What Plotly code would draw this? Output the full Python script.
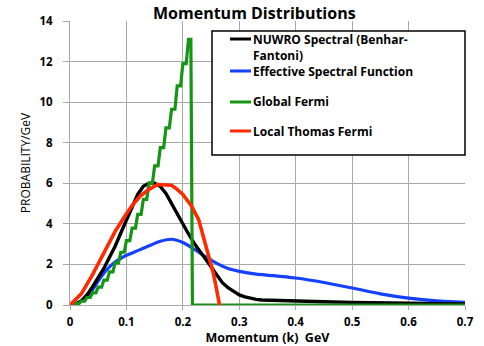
import plotly.graph_objects as go

# ---------------- data ----------------
k_nuwro = [0.00, 0.01, 0.02, 0.03, 0.04, 0.05, 0.06, 0.07, 0.08, 0.09,
           0.10, 0.11, 0.12, 0.13, 0.14, 0.15, 0.16, 0.17, 0.18, 0.19,
           0.20, 0.21, 0.22, 0.23, 0.24, 0.25, 0.26, 0.27, 0.28, 0.29,
           0.30, 0.31, 0.32, 0.33, 0.34, 0.35, 0.36, 0.38, 0.40, 0.45,
           0.50, 0.55, 0.60, 0.65, 0.70]
p_nuwro = [0.00, 0.05, 0.20, 0.50, 0.90, 1.35, 1.80, 2.35, 2.90, 3.55,
           4.20, 4.85, 5.45, 5.85, 6.00, 6.00, 5.85, 5.50, 5.00, 4.50,
           3.95, 3.50, 3.05, 2.65, 2.25, 1.85, 1.45, 1.10, 0.85, 0.65,
           0.50, 0.40, 0.33, 0.28, 0.25, 0.24, 0.22, 0.20, 0.19, 0.16,
           0.13, 0.10, 0.08, 0.06, 0.05]

k_esf = [0.00, 0.01, 0.02, 0.03, 0.04, 0.05, 0.06, 0.07, 0.08, 0.09,
         0.10, 0.12, 0.14, 0.16, 0.18, 0.20, 0.22, 0.24, 0.26, 0.28,
         0.30, 0.33, 0.36, 0.40, 0.45, 0.50, 0.55, 0.60, 0.65, 0.70]
p_esf = [0.00, 0.05, 0.20, 0.42, 0.75, 1.18, 1.56, 1.88, 2.12, 2.30,
         2.45, 2.68, 2.92, 3.14, 3.24, 3.08, 2.75, 2.38, 2.05, 1.80,
         1.66, 1.52, 1.45, 1.33, 1.11, 0.84, 0.55, 0.34, 0.20, 0.13]

# Global Fermi: histogram bins (left edges) and bin heights
k_gf = [0.00, 0.01, 0.02, 0.03, 0.04, 0.05, 0.06, 0.07, 0.08, 0.09,
        0.10, 0.11, 0.12, 0.13, 0.14, 0.15, 0.16, 0.17, 0.18, 0.19,
        0.20, 0.21, 0.217, 0.70]
p_gf = [0.01, 0.07, 0.19, 0.37, 0.60, 0.88, 1.23, 1.63, 2.08, 2.60,
        3.17, 3.79, 4.47, 5.21, 6.00, 6.86, 7.76, 8.73, 9.65, 10.80,
        11.90, 13.10, 0.00, 0.00]

k_ltf = [0.000, 0.020, 0.040, 0.055, 0.070, 0.080, 0.095, 0.110, 0.125, 0.140,
         0.155, 0.170, 0.180, 0.190, 0.200, 0.215, 0.228, 0.236, 0.245, 0.254,
         0.260, 0.265]
p_ltf = [0.00, 0.55, 1.50, 2.30, 3.05, 3.63, 4.29, 4.90, 5.38, 5.70,
         5.94, 5.94, 5.90, 5.70, 5.45, 4.90, 4.21, 3.40, 2.56, 1.57,
         0.74, 0.00]

series_names = ["NUWRO Spectral (Benhar-", "Effective Spectral Function",
                "Global Fermi", "Local Thomas Fermi"]
series_colors = ["#000000", "#1440ff", "#149614", "#ff2a00"]

x_ticks = [0, 0.1, 0.2, 0.3, 0.4, 0.5, 0.6, 0.7]
y_ticks = [0, 2, 4, 6, 8, 10, 12, 14]

FONT = "Open Sans"

# ---------------- figure ----------------
W, H = 484, 346
L, R, T, B = 70, 19, 21, 41

# histogram path with plateaus and short sloped risers (as drawn in the reference)
gx, gy = [], []
for i in range(len(k_gf) - 1):
    gx += [k_gf[i], k_gf[i] + 0.6 * (k_gf[i + 1] - k_gf[i])]
    gy += [p_gf[i], p_gf[i]]
gx.append(k_gf[-1])
gy.append(p_gf[-1])

fig = go.Figure()
fig.add_trace(go.Scatter(x=k_esf, y=p_esf, mode="lines", line=dict(color=series_colors[1], width=3.2, shape="spline", smoothing=0.6), showlegend=False))
fig.add_trace(go.Scatter(x=k_nuwro, y=p_nuwro, mode="lines", line=dict(color=series_colors[0], width=3.4), showlegend=False))
fig.add_trace(go.Scatter(x=gx, y=gy, mode="lines", line=dict(color=series_colors[2], width=3.2), showlegend=False))
fig.add_trace(go.Scatter(x=k_ltf, y=p_ltf, mode="lines", line=dict(color=series_colors[3], width=3.6), showlegend=False))


def px2paper(px, py):
    return (px - L) / (W - L - R), (H - B - py) / (H - T - B)


# manual legend box
bx0, by0 = px2paper(212, 155)
bx1, by1 = px2paper(465, 31)
fig.add_shape(type="rect", xref="paper", yref="paper", x0=bx0, y0=by0, x1=bx1, y1=by1,
              line=dict(color="black", width=1.5), fillcolor="white", layer="above")

rows_y = [39, 71, 102, 131]
for name, col, ry in zip(series_names, series_colors, rows_y):
    lx0, ly = px2paper(230, ry)
    lx1, _ = px2paper(251, ry)
    fig.add_shape(type="line", xref="paper", yref="paper", x0=lx0, x1=lx1, y0=ly, y1=ly,
                  line=dict(color=col, width=3), layer="above")
    tx, _ = px2paper(251, ry)
    fig.add_annotation(xref="paper", yref="paper", x=tx, y=ly, text=name, showarrow=False,
                       xanchor="left", yanchor="middle",
                       font=dict(family=FONT, size=12, color="black", weight="bold"))
fx, fy = px2paper(251, 55.5)
fig.add_annotation(xref="paper", yref="paper", x=fx, y=fy, text="Fantoni)", showarrow=False,
                   xanchor="left", yanchor="middle",
                   font=dict(family=FONT, size=12, color="black", weight="bold"))

# title
tx_, ty_ = px2paper(254, 13)
fig.add_annotation(xref="paper", yref="paper", x=tx_, y=ty_,
                   text="Momentum Distributions", showarrow=False, xanchor="center", yanchor="middle",
                   font=dict(family=FONT, size=16, color="black", weight="bold"))

grid = "#a8a8a8"
fig.update_layout(
    width=W, height=H,
    margin=dict(l=L, r=R, t=T, b=B, pad=0),
    paper_bgcolor="white", plot_bgcolor="white",
    font=dict(family=FONT, color="black"),
    xaxis=dict(range=[0, 0.7], tickvals=x_ticks, ticktext=[str(v) for v in x_ticks],
               automargin=False,
               showgrid=True, gridcolor=grid, gridwidth=1, zeroline=False,
               showline=True, linecolor=grid, linewidth=1,
               ticks="outside", ticklen=4, tickcolor=grid, ticklabelstandoff=2,
               tickfont=dict(family=FONT, size=11.5, weight="bold"),
               title=dict(text="Momentum (k)\u00a0 GeV", standoff=4,
                          font=dict(family=FONT, size=12.5, weight="bold"))),
    yaxis=dict(range=[0, 14], tickvals=y_ticks,
               automargin=False,
               showgrid=True, gridcolor=grid, gridwidth=1, zeroline=False,
               showline=True, linecolor=grid, linewidth=1,
               ticks="outside", ticklen=6, tickcolor=grid, ticklabelstandoff=8,
               tickfont=dict(family=FONT, size=11.5, weight="bold"),
               title=dict(text="PROBABILITY/GeV", standoff=6,
                          font=dict(family=FONT, size=12))),
)

fig.write_html("out.html", config={"displayModeBar": False},
               post_script="document.body.style.margin='0';document.body.style.overflow='hidden';")
